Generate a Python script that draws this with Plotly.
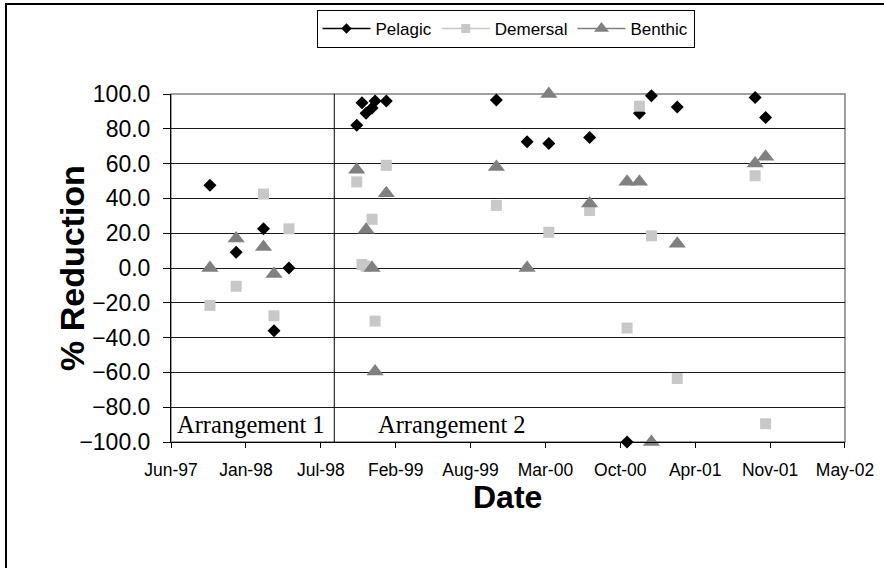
import plotly.graph_objects as go

# ---------------- data ----------------
dates = ["1997-10-01", "1997-12-10", "1998-02-21", "1998-03-21", "1998-04-30",
         "1998-10-28", "1998-11-11", "1998-11-22", "1998-12-08", "1998-12-16", "1999-01-15",
         "1999-11-05", "2000-01-26", "2000-03-24", "2000-07-11", "2000-10-19", "2000-11-21",
         "2000-12-23", "2001-03-02", "2001-09-26", "2001-10-24"]
pelagic = [47.5, 9.0, 22.5, -36.0, 0.0,
           82.0, 95.0, 89.0, 92.0, 96.0, 96.0,
           96.5, 72.5, 71.5, 75.0, -100.0, 89.0,
           99.0, 92.5, 98.0, 86.5]
demersal = [-21.5, -10.5, 42.5, -27.5, 22.5,
            49.5, 2.0, 1.0, 28.0, -30.5, 59.0,
            36.0, None, 20.5, 33.0, -34.5, 93.0,
            18.5, -63.5, 53.0, -89.5]
benthic = [0.0, 17.0, 12.0, -3.5, None,
           56.5, None, 22.0, 0.0, -59.5, 43.0,
           58.0, 0.0, 100.0, 37.0, 49.5, 49.5,
           -100.0, 14.0, 60.0, 64.0]

tick_dates = ["1997-06-19", "1998-01-05", "1998-07-24", "1999-02-09", "1999-08-28",
              "2000-03-15", "2000-10-01", "2001-04-19", "2001-11-05", "2002-05-24"]
tick_text = ["Jun-97", "Jan-98", "Jul-98", "Feb-99", "Aug-99",
             "Mar-00", "Oct-00", "Apr-01", "Nov-01", "May-02"]
y_ticks = [-100, -80, -60, -40, -20, 0, 20, 40, 60, 80, 100]

separator_date = "1998-08-29"
arrangements = ["Arrangement 1", "Arrangement 2"]
arrangement_dates = ["1998-01-19", "1999-07-10"]
arrangement_y = -90

# ---------------- styles ----------------
series = [
    ("Pelagic", pelagic, "#000000", "diamond", 10),
    ("Demersal", demersal, "#c8c8c8", "square", 11),
    ("Benthic", benthic, "#808080", "triangle-up", 15),
]

fig = go.Figure()
for name, vals, col, sym, sz in series:
    fig.add_trace(go.Scatter(x=dates, y=vals, mode="markers", name=name, cliponaxis=False,
                             marker=dict(symbol=sym, size=sz, color=col, line=dict(width=0)),
                             showlegend=False))
for name, vals, col, sym, sz in series:
    fig.add_trace(go.Scatter(x=[None], y=[None], mode="lines+markers", name=name,
                             line=dict(color=col, width=1.5),
                             marker=dict(symbol=sym, size=sz - 2, color=col),
                             showlegend=True))

L, R, T, B = 171, 39, 94, 126
W, H = 884, 568
pw, ph = W - L - R, H - T - B

fig.add_shape(type="line", xref="x", yref="paper", x0=separator_date, x1=separator_date,
              y0=0, y1=1, line=dict(color="#000000", width=1))
# plot area border (grey)
fig.add_shape(type="rect", xref="paper", yref="paper", x0=0, x1=1, y0=0, y1=1,
              line=dict(color="#808080", width=1.5), layer="between")
# outer chart border
fig.add_shape(type="rect", xref="paper", yref="paper",
              x0=(6 - L) / pw, x1=2, y0=-2, y1=(H - B - 4) / ph,
              line=dict(color="#000000", width=2))

for txt, d in zip(arrangements, arrangement_dates):
    fig.add_annotation(x=d, y=arrangement_y, xref="x", yref="y", text=txt, showarrow=False,
                       font=dict(family="Liberation Serif", size=24.5, color="#000000"))

fig.add_annotation(x=(51 - L) / pw, y=0.5, xref="paper", yref="paper", text="<b>% Reduction</b>",
                   textangle=-90, showarrow=False,
                   font=dict(family="Liberation Sans", size=34, color="#000000"))
fig.add_annotation(x=(507 - L) / pw, y=-(517 - (H - B)) / ph, xref="paper", yref="paper",
                   text="<b>Date</b>", showarrow=False,
                   font=dict(family="Liberation Sans", size=32, color="#000000"))

fig.update_layout(
    width=W, height=H,
    margin=dict(l=L, r=R, t=T, b=B, pad=0, autoexpand=False),
    paper_bgcolor="white", plot_bgcolor="white",
    font=dict(family="Liberation Sans", color="#000000"),
    legend=dict(orientation="h", x=(505.5 - L) / pw, xanchor="center",
                y=(H - B - 10) / ph, yanchor="top",
                bordercolor="#000000", borderwidth=1, bgcolor="white",
                font=dict(size=17), itemwidth=48),
    showlegend=True,
)
fig.update_xaxes(type="date", range=["1997-06-18 23:00", "2002-05-24 01:00"],
                 tickvals=tick_dates, ticktext=tick_text, automargin=False,
                 showgrid=False, zeroline=False, showline=True, linecolor="#000000", linewidth=1,
                 ticks="outside", ticklen=5, tickcolor="#000000",
                 tickfont=dict(size=17.5), ticklabelstandoff=7)
fig.update_yaxes(range=[-100, 100], tickvals=y_ticks, tickformat=".1f", automargin=False,
                 showgrid=True, gridcolor="#1a1a1a", gridwidth=1, zeroline=False,
                 showline=True, linecolor="#000000", linewidth=1,
                 ticks="outside", ticklen=7, tickcolor="#000000",
                 tickfont=dict(size=23), ticklabelstandoff=8)

fig.write_html("out.html", config={"displayModeBar": False},
               post_script="document.body.style.margin='0px';")
